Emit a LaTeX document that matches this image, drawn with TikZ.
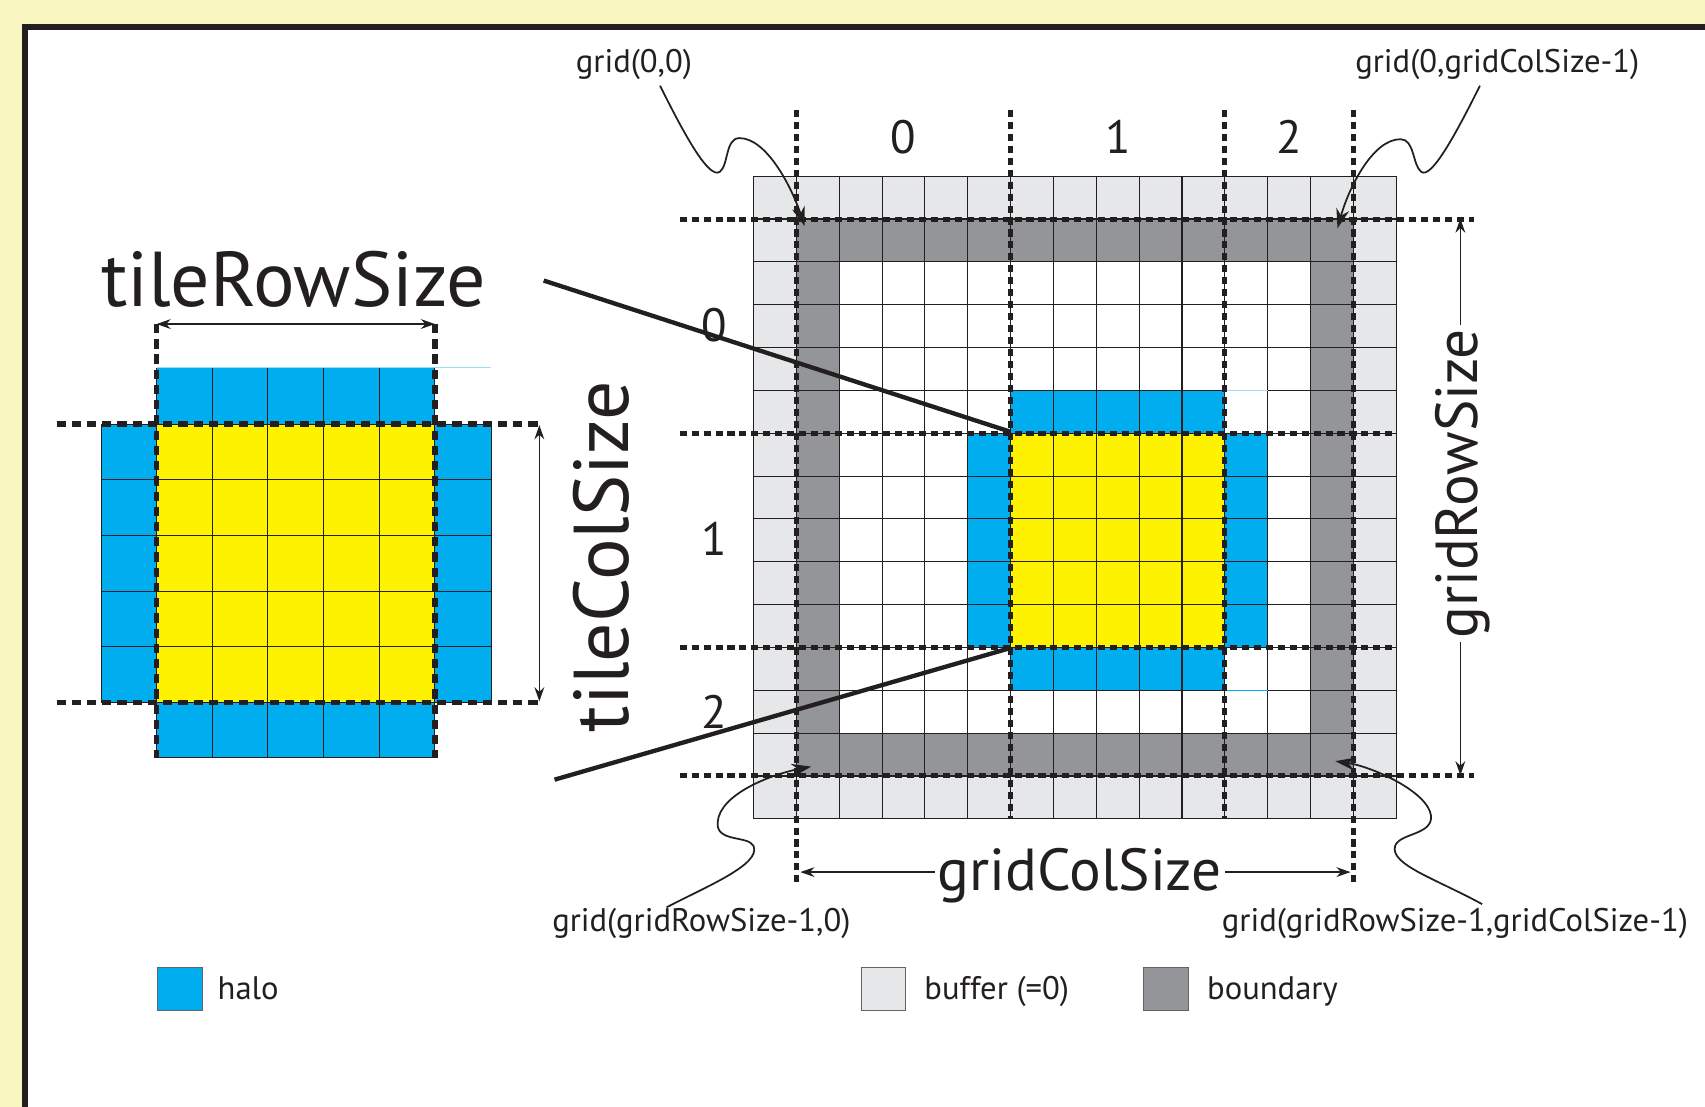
\documentclass[tikz,border=0pt]{standalone}
\usepackage{fontspec}
\setmainfont{PT Sans}
\usetikzlibrary{arrows.meta}
\definecolor{paper}{RGB}{249,246,193}
\definecolor{ink}{RGB}{35,31,32}
\definecolor{haloblue}{RGB}{0,174,239}
\definecolor{tileyellow}{RGB}{255,242,0}
\definecolor{buffergray}{RGB}{230,231,232}
\definecolor{boundgray}{RGB}{147,149,152}
\tikzset{
    cellline/.style={draw=ink,line width=1pt},
    cutline/.style={draw=ink,line width=4.6pt,dash pattern=on 6.5pt off 4.5pt},
    bigcut/.style={draw=ink,line width=4.8pt,dash pattern=on 8.5pt off 5.5pt},
    dimline/.style={draw=ink,line width=1.1pt},
    dimarrow/.style={dimline,{Stealth[length=13pt,width=9pt]}-{Stealth[length=13pt,width=9pt]}},
    dimtip/.style={dimline,-{Stealth[length=13pt,width=9pt]}},
    callout/.style={draw=ink,line width=1.6pt,-{Stealth[length=18pt,width=12pt]}},
    zoomline/.style={draw=ink,line width=4pt},
    smalltext/.style={text=ink,inner sep=0pt,font=\fontsize{30}{36}\selectfont},
    bigtext/.style={text=ink,inner sep=0pt,font=\fontsize{71.5}{86}\selectfont},
    midtext/.style={text=ink,inner sep=3pt,font=\fontsize{54.5}{66}\selectfont},
    digit/.style={text=ink,inner sep=0pt,font=\fontsize{43}{52}\selectfont},
    legbox/.style={draw=ink!70,line width=0.9pt,minimum width=41pt,minimum height=39pt,inner sep=0pt},
}
\begin{document}
\begin{tikzpicture}[x=1pt,y=-1pt]
    %背景和外框
    \useasboundingbox (0,0) rectangle (1568,1018);
    \clip (0,0) rectangle (1568,1018);
    \fill[paper] (0,0) rectangle (1568,1018);
    \draw[ink,line width=6pt,fill=white] (23,25) rectangle (1620,1080);

    %左边的块: 黄色和蓝色halo
    \fill[tileyellow] (144,390) rectangle (400,646);
    \fill[haloblue] (144,338) rectangle (400,390);
    \fill[haloblue] (144,646) rectangle (400,697);
    \fill[haloblue] (93,390) rectangle (144,646);
    \fill[haloblue] (400,390) rectangle (452,646);
    %左边块的格线
    \foreach \i in {0,...,5}
    {
        \draw[cellline] (144+51.2*\i,338) -- (144+51.2*\i,697);
        \draw[cellline] (93,390+51.2*\i) -- (452,390+51.2*\i);
    };
    \draw[cellline] (144,697) -- (400,697);
    \draw[cellline] (93,390) -- (93,646);
    \draw[cellline] (452,390) -- (452,646);
    \draw[haloblue!40,line width=1pt] (144,338) -- (452,338);
    %左边块的虚线
    \draw[bigcut] (52,390) -- (495,390);
    \draw[bigcut] (52,646) -- (495,646);
    \draw[bigcut] (144,298) -- (144,697);
    \draw[bigcut] (400,298) -- (400,697);
    %左边块的尺寸
    \coordinate (tl1) at (144,298);
    \coordinate (tl2) at (400,298);
    \coordinate (tc1) at (496,391);
    \coordinate (tc2) at (496,645);
    \draw[dimarrow] (tl1) -- (tl2);
    \draw[dimarrow] (tc1) -- (tc2);
    \node[bigtext,anchor=base] (trs) at (270,282) {tileRowSize};
    \node[bigtext,anchor=base,rotate=90] (tcs) at (578,512) {tileColSize};

    %右边的网格: buffer, boundary, 内部
    \fill[buffergray] (693,162) rectangle (1284,753);
    \fill[boundgray] (732.4,201.4) rectangle (1244.6,713.6);
    \fill[white] (771.8,240.8) rectangle (1205.2,674.2);
    \fill[tileyellow] (929.4,398.4) rectangle (1126.4,595.4);
    \fill[haloblue] (929.4,359) rectangle (1126.4,398.4);
    \fill[haloblue] (929.4,595.4) rectangle (1126.4,634.8);
    \fill[haloblue] (890,398.4) rectangle (929.4,595.4);
    \fill[haloblue] (1126.4,398.4) rectangle (1165.8,595.4);
    %网格线
    \foreach \i in {0,...,15}
    {
        \draw[cellline] (693+39.4*\i,162) -- (693+39.4*\i,753);
        \draw[cellline] (693,162+39.4*\i) -- (1284,162+39.4*\i);
    };
    \draw[haloblue!40,line width=1.2pt] (1126.4,359) -- (1165.8,359);
    \draw[haloblue,line width=1.2pt] (1126.4,634.8) -- (1165.8,634.8);

    %放大线
    \coordinate (z1) at (500,258);
    \coordinate (z2) at (510,717);
    \coordinate (tiletl) at (929,397);
    \coordinate (tilebl) at (929,596);
    \draw[zoomline] (z1) -- (tiletl);
    \draw[zoomline] (z2) -- (tilebl);

    %分块的虚线
    \foreach \x in {732.4,1244.6}
        \draw[cutline] (\x,101) -- (\x,816);
    \foreach \x in {929.4,1126.4}
        \draw[cutline] (\x,101) -- (\x,753);
    \foreach \y in {201.4,713.6}
        \draw[cutline] (625,\y) -- (1356,\y);
    \foreach \y in {398.4,595.4}
        \draw[cutline] (625,\y) -- (1284,\y);

    %分块编号
    \foreach \n/\x in {0/831,1/1028,2/1186}
        \node[digit] (col\n) at (\x,126) {\n};
    \foreach \n/\y in {0/299,1/496,2/655}
        \node[digit] (row\n) at (657,\y) {\n};

    %四个角的标注
    \node[smalltext,anchor=base] (g00) at (583,67) {grid(0,0)};
    \node[smalltext,anchor=base] (g0n) at (1377,67) {grid(0,gridColSize-1)};
    \node[smalltext,anchor=base] (gm0) at (645,857) {grid(gridRowSize-1,0)};
    \node[smalltext,anchor=base] (gmn) at (1338,857) {grid(gridRowSize-1,gridColSize-1)};
    \coordinate (ctl) at (740,208);
    \coordinate (ctr) at (1230,210);
    \coordinate (cbl) at (746,705);
    \coordinate (cbr) at (1228,700);
    \draw[callout] ([xshift=24pt,yshift=-5pt]g00.south) .. controls (630,125) and (652,165) .. (662,158)
        .. controls (670,152) and (667,127) .. (680,127) .. controls (705,127) and (728,172) .. (ctl);
    \draw[callout] ([xshift=-16pt,yshift=-5pt]g0n.south) .. controls (1338,125) and (1316,165) .. (1307,158)
        .. controls (1299,152) and (1301,128) .. (1288,128) .. controls (1262,128) and (1240,174) .. (ctr);
    \draw[callout] ([xshift=-32pt,yshift=1pt]gm0.north) .. controls (650,815) and (700,795) .. (693,778)
        .. controls (688,768) and (658,775) .. (660,756) .. controls (662,730) and (710,712) .. (cbl);
    \draw[callout] ([xshift=25pt,yshift=4pt]gmn.north) .. controls (1320,808) and (1278,795) .. (1283,778)
        .. controls (1287,766) and (1318,768) .. (1316,750) .. controls (1313,728) and (1262,705) .. (cbr);

    %网格的尺寸
    \node[midtext,anchor=base,rotate=90] (grs) at (1359,445) {gridRowSize};
    \coordinate (rtop) at (1343,201);
    \coordinate (rbot) at (1343,713);
    \draw[dimtip] (rtop |- grs.east) -- (rtop);
    \draw[dimtip] (rbot |- grs.west) -- (rbot);
    \node[midtext,anchor=base] (gcs) at (993,819) {gridColSize};
    \coordinate (cleft) at (736,802);
    \coordinate (cright) at (1242,802);
    \draw[dimtip] (cleft -| gcs.west) -- (cleft);
    \draw[dimtip] (cright -| gcs.east) -- (cright);

    %图例
    \node[legbox,fill=haloblue] (keyhalo) at (165.5,909.5) {};
    \node[smalltext,anchor=base west] (txthalo) at (200,919) {halo};
    \node[legbox,fill=buffergray] (keybuf) at (812.5,909.5) {};
    \node[smalltext,anchor=base west] (txtbuf) at (850,919) {buffer (=0)};
    \node[legbox,fill=boundgray] (keybnd) at (1072.5,909.5) {};
    \node[smalltext,anchor=base west] (txtbnd) at (1110,919) {boundary};
\end{tikzpicture}
\end{document}
